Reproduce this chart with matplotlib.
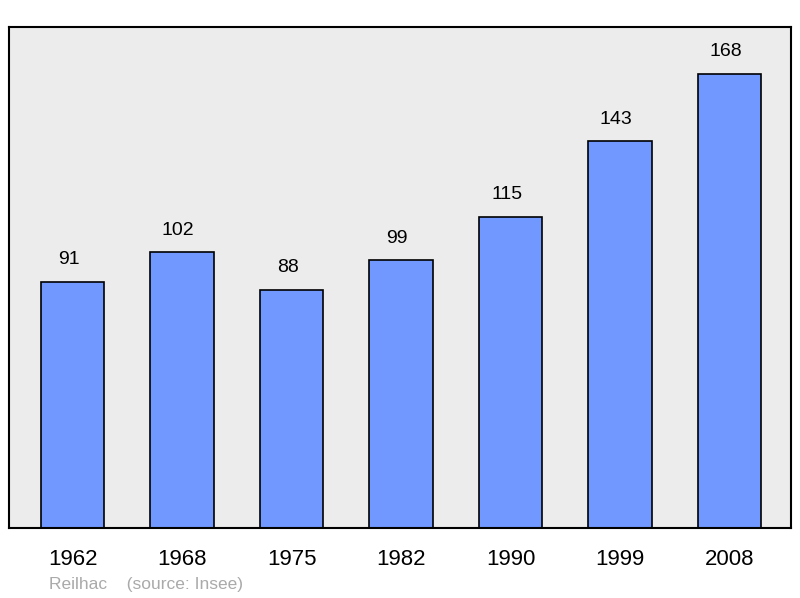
import matplotlib
matplotlib.use("Agg")
import matplotlib.pyplot as plt

years = ["1962", "1968", "1975", "1982", "1990", "1999", "2008"]
population = [91, 102, 88, 99, 115, 143, 168]

fig = plt.figure(figsize=(8, 5.98), dpi=100)
ax = fig.add_axes([9/800, 1-528/598, 782/800, 501/598])
ax.set_facecolor("#ececec")
x = range(len(years))
ax.bar(x, population, width=0.58, color="#7098ff", edgecolor="black", linewidth=1.2, zorder=2)
for i, v in enumerate(population):
    ax.text(i - 0.035, v + 5, str(v), ha="center", va="bottom", fontsize=14, family="Liberation Sans")
ax.set_xlim(-0.58, 6.56)
ax.set_ylim(0, 185.2)
ax.set_xticks(list(x))
ax.set_xticklabels(years, fontsize=16, family="Liberation Sans")
ax.tick_params(axis="x", length=0, pad=15)
ax.set_yticks([])
for s in ax.spines.values():
    s.set_linewidth(1.5)
fig.text(49/800, 1-584/598, "Reilhac    (source: Insee)", fontsize=12.5, color="#aaaaaa",
         family="Liberation Sans", va="center")
fig.savefig("out.png", dpi=100)
